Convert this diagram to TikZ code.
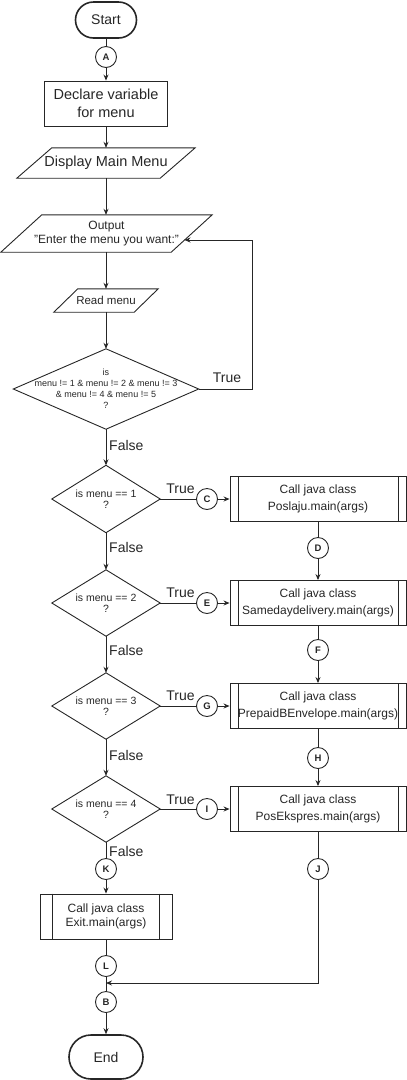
\documentclass[tikz,border=0pt]{standalone}
\usepackage{fontspec}
\setmainfont{Liberation Sans}
\usetikzlibrary{arrows.meta}
\definecolor{ln}{HTML}{262626}
\definecolor{tx}{HTML}{262626}
\newcommand\mypara[2]{\draw[line] ([xshift=#2]#1.north west) -- (#1.north east) -- ([xshift=-#2]#1.south east) -- (#1.south west) -- cycle;}
\newcommand\mydiam[1]{\draw[line] (#1.north) -- (#1.east) -- (#1.south) -- (#1.west) -- cycle;}
\newcommand\mypp[2]{\draw[line] ([xshift=#2]#1.north west) -- ([xshift=#2]#1.south west) ([xshift=-#2]#1.north east) -- ([xshift=-#2]#1.south east);}
\begin{document}
\begin{tikzpicture}[x=1pt,y=-1pt,
  every node/.style={text=tx, inner sep=0pt, font=\fontsize{14}{17}\selectfont},
  line/.style={draw=ln, line width=0.9pt},
  arr/.style={line, -{Stealth[length=6pt,width=5pt]}},
  term/.style={rectangle, draw=ln, line width=1.6pt},
  circ/.style={circle, line, minimum size=21pt, font=\bfseries\fontsize{9.5}{11}\selectfont},
  box/.style={rectangle, line, align=center},
  hid/.style={rectangle, draw=none, align=center},
  lab/.style={font=\fontsize{14}{17}\selectfont}
]
\useasboundingbox (0,0) rectangle (407,1080);

% main column
\node[term, minimum width=61pt, minimum height=36pt, rounded corners=18pt] (start) at (106,20) {Start};
\node[circ] (A) at (106,57) {A};
\node[box, minimum width=123pt, minimum height=45pt, font=\fontsize{14.5}{17.5}\selectfont] (declare) at (106,103.5) {Declare variable\\for menu};
\node[hid, minimum width=178pt, minimum height=30pt, font=\fontsize{14.5}{17}\selectfont] (display) at (106,163) {Display Main Menu};
\mypara{display}{35pt}
\node[hid, minimum width=211pt, minimum height=37pt, font=\fontsize{12}{14}\selectfont] (output) at (106.5,233.5) {Output\\"Enter the menu you want:"};
\mypara{output}{41pt}
\node[hid, minimum width=104pt, minimum height=23pt, font=\fontsize{11.5}{14}\selectfont] (read) at (106,300.5) {Read menu};
\mypara{read}{24pt}
\node[hid, minimum width=185pt, minimum height=80pt, font=\fontsize{9}{11}\selectfont] (d1) at (106,389) {is\\menu != 1 \& menu != 2 \& menu != 3\\\& menu != 4 \& menu != 5\\?};
\mydiam{d1}

\node[hid, minimum width=108pt, minimum height=67pt, font=\fontsize{10.5}{11}\selectfont] (d2) at (106,499) {is menu == 1\\?};
\mydiam{d2}
\node[hid, minimum width=108pt, minimum height=66pt, font=\fontsize{10.5}{11}\selectfont] (d3) at (106,603) {is menu == 2\\?};
\mydiam{d3}
\node[hid, minimum width=108pt, minimum height=66pt, font=\fontsize{10.5}{11}\selectfont] (d4) at (106,706) {is menu == 3\\?};
\mydiam{d4}
\node[hid, minimum width=108pt, minimum height=66pt, font=\fontsize{10.5}{11}\selectfont] (d5) at (106,809) {is menu == 4\\?};
\mydiam{d5}

% right column
\node[box, minimum width=176pt, minimum height=45pt, font=\fontsize{12}{16.5}\selectfont] (b1) at (318,499) {Call java class\\Poslaju.main(args)};
\mypp{b1}{8.5pt}
\node[box, minimum width=176pt, minimum height=45pt, font=\fontsize{12}{16.5}\selectfont] (b2) at (318,603) {Call java class\\Samedaydelivery.main(args)};
\mypp{b2}{8.5pt}
\node[box, minimum width=176pt, minimum height=45pt, font=\fontsize{12}{16.5}\selectfont] (b3) at (318,706) {Call java class\\PrepaidBEnvelope.main(args)};
\mypp{b3}{8.5pt}
\node[box, minimum width=176pt, minimum height=45pt, font=\fontsize{12}{16.5}\selectfont] (b4) at (318,809) {Call java class\\PosEkspres.main(args)};
\mypp{b4}{8.5pt}

\node[circ] (C) at (207,499) {C};
\node[circ] (E) at (207,603) {E};
\node[circ] (G) at (207,706) {G};
\node[circ] (I) at (207,809) {I};
\node[circ] (D) at (318,548) {D};
\node[circ] (F) at (318,650) {F};
\node[circ] (H) at (318,758) {H};
\node[circ] (J) at (318,869) {J};

\node[circ] (K) at (106,869) {K};
\node[box, minimum width=132pt, minimum height=45pt, font=\fontsize{12}{14.5}\selectfont] (exit) at (106,916.5) {Call java class\\Exit.main(args)};
\mypp{exit}{13pt}
\node[circ] (L) at (106,966) {L};
\node[circ] (B) at (106,1002) {B};
\node[term, minimum width=74pt, minimum height=44pt, rounded corners=22pt] (end) at (106,1057) {End};

% labels
\node[lab] (t1) at (227,378) {True};
\node[lab] (t2) at (180.5,489) {True};
\node[lab] (t3) at (180.5,592.5) {True};
\node[lab] (t4) at (180.5,696) {True};
\node[lab] (t5) at (180.5,800) {True};
\node[lab, anchor=west] (f1) at (109,445) {False};
\node[lab, anchor=west] (f2) at (109,547) {False};
\node[lab, anchor=west] (f3) at (109,650) {False};
\node[lab, anchor=west] (f4) at (109,755) {False};
\node[lab, anchor=west] (f5) at (109,851) {False};

% connectors
\draw[line] (start) -- (A);
\draw[arr] (A) -- (declare);
\draw[arr] (declare) -- (display);
\draw[arr] (display.south) -- (output.north -| display.south);
\draw[arr] (output.south -| read.north) -- (read.north);
\draw[arr] (read) -- (d1);
\coordinate (loop) at (252,240);
\coordinate (outin) at (184.5,240);
\draw[arr] (d1.east) -| (loop) -- (outin);
\draw[arr] (d1) -- (d2);
\draw[arr] (d2) -- (d3);
\draw[arr] (d3) -- (d4);
\draw[arr] (d4) -- (d5);
\draw[line] (d2.east) -- (C);
\draw[line] (d3.east) -- (E);
\draw[line] (d4.east) -- (G);
\draw[line] (d5.east) -- (I);
\draw[arr] (C) -- (b1);
\draw[arr] (E) -- (b2);
\draw[arr] (G) -- (b3);
\draw[arr] (I) -- (b4);
\draw[line] (b1) -- (D);
\draw[arr] (D) -- (b2);
\draw[line] (b2) -- (F);
\draw[arr] (F) -- (b3);
\draw[line] (b3) -- (H);
\draw[arr] (H) -- (b4);
\draw[line] (b4) -- (J);
\draw[line] (d5.south) -- (K);
\draw[arr] (K) -- (exit);
\draw[line] (exit) -- (L);
\draw[line] (L) -- (B);
\coordinate (merge) at (106,983);
\draw[arr] (J) |- (merge);
\draw[arr] (B) -- (end);
\end{tikzpicture}
\end{document}
